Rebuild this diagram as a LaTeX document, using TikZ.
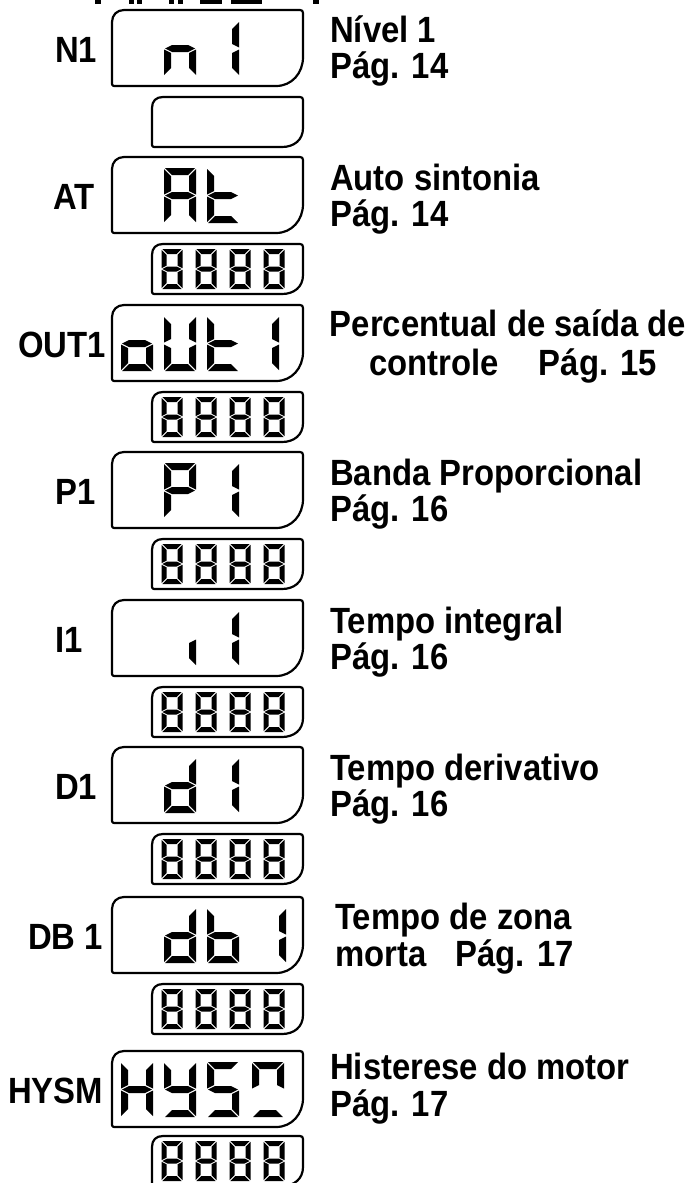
\documentclass[tikz,border=0pt]{standalone}
\usepackage{fontspec}
\setmainfont{Liberation Sans}
\newfontfamily\lblfont{Liberation Sans}[FakeStretch=0.9]
\tikzset{
  boxline/.style={line width=2.2pt, line join=round},
  lbl/.style={font=\lblfont\fontsize{36.5}{40}\selectfont\bfseries, inner sep=0pt, anchor=base west},
  lblc/.style={font=\lblfont\fontsize{36.5}{40}\selectfont\bfseries, inner sep=0pt, anchor=base},
}
% seven-segment pieces (y grows downwards)
\newcommand\segA{\fill (\dX+\dG,\dY) -- (\dX+\dW-\dG,\dY) -- (\dX+\dW-\dT-\dG,\dY+\dT) -- (\dX+\dT+\dG,\dY+\dT) -- cycle;}
\newcommand\segD{\fill (\dX+\dG,\dY+\dH) -- (\dX+\dW-\dG,\dY+\dH) -- (\dX+\dW-\dT-\dG,\dY+\dH-\dT) -- (\dX+\dT+\dG,\dY+\dH-\dT) -- cycle;}
\newcommand\segF{\fill (\dX,\dY+\dG) -- (\dX+\dT,\dY+\dT+\dG) -- (\dX+\dT,\dY+\dM-\dT/2-\dG) -- (\dX,\dY+\dM-\dG) -- cycle;}
\newcommand\segB{\fill (\dX+\dW,\dY+\dG) -- (\dX+\dW-\dT,\dY+\dT+\dG) -- (\dX+\dW-\dT,\dY+\dM-\dT/2-\dG) -- (\dX+\dW,\dY+\dM-\dG) -- cycle;}
\newcommand\segE{\fill (\dX,\dY+\dM+\dG) -- (\dX+\dT,\dY+\dM+\dT/2+\dG) -- (\dX+\dT,\dY+\dH-\dT-\dG) -- (\dX,\dY+\dH-\dG) -- cycle;}
\newcommand\segC{\fill (\dX+\dW,\dY+\dM+\dG) -- (\dX+\dW-\dT,\dY+\dM+\dT/2+\dG) -- (\dX+\dW-\dT,\dY+\dH-\dT-\dG) -- (\dX+\dW,\dY+\dH-\dG) -- cycle;}
\newcommand\segG{\fill (\dX+\dG,\dY+\dM) -- (\dX+\dT+\dG,\dY+\dM-\dT/2) -- (\dX+\dW-\dT-\dG,\dY+\dM-\dT/2) -- (\dX+\dW-\dG,\dY+\dM) -- (\dX+\dW-\dT-\dG,\dY+\dM+\dT/2) -- (\dX+\dT+\dG,\dY+\dM+\dT/2) -- cycle;}
\newcommand\bigdig[3]{\def\dX{#1}\def\dY{#2}\def\dW{32}\def\dH{55}\def\dM{27.5}\def\dT{7}\def\dG{1}%
  \foreach \s in {#3}{\csname seg\s\endcsname}}
\newcommand\smalldig[3]{\def\dX{#1}\def\dY{#2}\def\dW{21}\def\dH{40}\def\dM{20}\def\dT{5}\def\dG{0.8}%
  \foreach \s in {#3}{\csname seg\s\endcsname}}
\newcommand\eights[1]{\foreach \ex in {161.5,195.5,229.5,263.5}{\smalldig{\ex}{#1+5}{A,B,C,D,E,F,G}}}
% display frames
\newcommand\bigbox[2]{\draw[boxline] (#1,#2+12) .. controls (#1,#2+5) and (#1+5,#2) .. (#1+12,#2)
  -- (#1+188,#2) .. controls (#1+190,#2) and (#1+191,#2+1) .. (#1+191,#2+3)
  -- (#1+191,#2+47) .. controls (#1+191,#2+63) and (#1+180,#2+76) .. (#1+164,#2+76)
  -- (#1+2,#2+76) .. controls (#1+1,#2+76) and (#1,#2+75) .. (#1,#2+74) -- cycle;}
\newcommand\smallbox[2]{\draw[boxline] (#1,#2+11) .. controls (#1,#2+4) and (#1+4,#2) .. (#1+11,#2)
  -- (#1+148,#2) .. controls (#1+150,#2) and (#1+151,#2+1) .. (#1+151,#2+3)
  -- (#1+151,#2+31) .. controls (#1+151,#2+43) and (#1+142,#2+50) .. (#1+130,#2+50)
  -- (#1+2,#2+50) .. controls (#1+1,#2+50) and (#1,#2+49) .. (#1,#2+48) -- cycle;}
\begin{document}
\begin{tikzpicture}[x=1pt,y=-1pt]
\useasboundingbox (0,0) rectangle (688,1183);
% cut-off segment ends at the top edge
\fill (95,0) rectangle (101,3.5);
\fill (129,0) rectangle (134,3.5);
\fill (137,0) rectangle (142,3.5);
\fill (169,0) rectangle (174,3.5);
\fill (178,0) rectangle (183,3.5);
\fill (200,0) rectangle (222,3.5);
\fill (231,0) rectangle (262,3.5);
\fill (313,0) rectangle (319,3.5);

% ---- N1
\bigbox{112}{10}
\smallbox{152}{97}
\bigdig{164}{21}{C,E,G}
\bigdig{207}{21}{B,C}
\node[lbl] (lN1) at (55,62) {N1};
\node[lbl] (tN1a) at (330,42) {Nível 1};
\node[lbl] (tN1b) at (330,78) {Pág. 14};

% ---- AT
\bigbox{112}{157}
\smallbox{152}{244}
\bigdig{164}{168}{A,B,C,E,F,G}
\bigdig{207}{168}{D,E,F,G}
\eights{244}
\node[lbl] (lAT) at (53,209) {AT};
\node[lbl] (tATa) at (330,190) {Auto sintonia};
\node[lbl] (tATb) at (330,226) {Pág. 14};

% ---- OUT1
\bigbox{112}{305}
\smallbox{152}{392}
\bigdig{121}{316}{C,D,E,G}
\bigdig{164}{316}{B,C,D,E,F}
\bigdig{207}{316}{D,E,F,G}
\bigdig{247}{316}{B,C}
\eights{392}
\node[lbl] (lOUT1) at (18,357) {OUT1};
\node[lblc] (tOUTa) at (508,336) {Percentual de saída de};
\node[lblc] (tOUTb) at (513,375) {controle\hspace{1.1em}Pág. 15};

% ---- P1
\bigbox{112}{452}
\smallbox{152}{539}
\bigdig{164}{463}{A,B,E,F,G}
\bigdig{207}{463}{B,C}
\eights{539}
\node[lbl] (lP1) at (55,504) {P1};
\node[lbl] (tP1a) at (330,485) {Banda Proporcional};
\node[lbl] (tP1b) at (330,521) {Pág. 16};

% ---- I1
\bigbox{112}{600}
\smallbox{152}{687}
\bigdig{164}{611}{C}
\bigdig{207}{611}{B,C}
\eights{687}
\node[lbl] (lI1) at (55,652) {I1};
\node[lbl] (tI1a) at (330,633) {Tempo integral};
\node[lbl] (tI1b) at (330,669) {Pág. 16};

% ---- D1
\bigbox{112}{747}
\smallbox{152}{834}
\bigdig{164}{758}{B,C,D,E,G}
\bigdig{207}{758}{B,C}
\eights{834}
\node[lbl] (lD1) at (55,799) {D1};
\node[lbl] (tD1a) at (330,780) {Tempo derivativo};
\node[lbl] (tD1b) at (330,816) {Pág. 16};

% ---- DB 1
\bigbox{112}{897}
\smallbox{152}{984}
\bigdig{164}{908}{B,C,D,E,G}
\bigdig{207}{908}{C,D,E,F,G}
\bigdig{254}{908}{B,C}
\eights{984}
\node[lbl] (lDB1) at (28,949) {DB 1};
\node[lbl] (tDBa) at (335,929) {Tempo de zona};
\node[lbl] (tDBb) at (335,966) {morta\hspace{0.8em}Pág. 17};

% ---- HYSM
\bigbox{112}{1051}
\smallbox{152}{1136}
\bigdig{121}{1062}{B,C,E,F,G}
\bigdig{164}{1062}{B,C,D,F,G}
\bigdig{207}{1062}{A,C,D,F,G}
\bigdig{252}{1062}{A,B,D,F}
\eights{1136}
\node[lbl] (lHYSM) at (8,1103) {HYSM};
\node[lbl] (tHYa) at (330,1079) {Histerese do motor};
\node[lbl] (tHYb) at (330,1116) {Pág. 17};
\end{tikzpicture}
\end{document}
